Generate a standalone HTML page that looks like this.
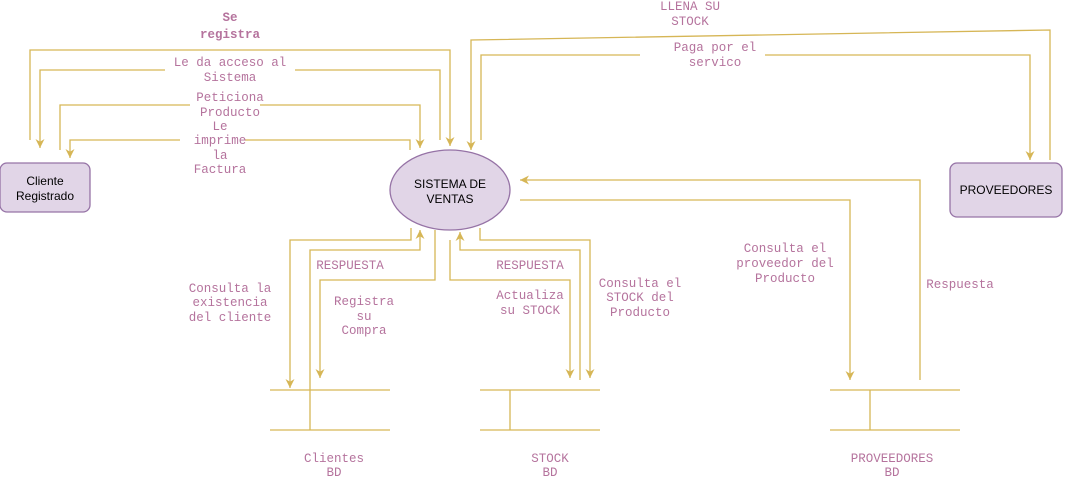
<html><body style="margin:0;background:#fff">
<svg width="1071" height="481" xmlns="http://www.w3.org/2000/svg" font-family="Liberation Mono, monospace" font-size="12.5">
<defs>
<marker id="m" viewBox="0 0 10 10" refX="10" refY="5" markerWidth="9" markerHeight="9" orient="auto" markerUnits="userSpaceOnUse"><path d="M0,0 L10,5 L0,10 L3,5 z" fill="#d6b656"/></marker></defs>
<g fill="none" stroke="#d6b656" stroke-width="1.3">
<path d="M30,140 V50 H450 V146" marker-end="url(#m)"/>
<path d="M440,140 V70 H40 V148" marker-end="url(#m)"/>
<path d="M60,150 V105 H420 V148" marker-end="url(#m)"/>
<path d="M410,150 V140 H70 V158" marker-end="url(#m)"/>
<path d="M1050,160 V30 L471,40 V150" marker-end="url(#m)"/>
<path d="M481,140 V55 H1030 V160" marker-end="url(#m)"/>
<path d="M920,380 V180 H520" marker-end="url(#m)"/>
<path d="M520,200 H850 V380" marker-end="url(#m)"/>
<path d="M411,228 V240 H290 V388" marker-end="url(#m)"/>
<path d="M310,430 V250 H420 V230" marker-end="url(#m)"/>
<path d="M435,230 V280 H320 V378" marker-end="url(#m)"/>
<path d="M580,380 V250 H460 V232" marker-end="url(#m)"/>
<path d="M450,240 V280 H570 V378" marker-end="url(#m)"/>
<path d="M480,228 V240 H590 V378" marker-end="url(#m)"/>
<path d="M270,390 H390 M270,430 H390"/>
<path d="M480,390 H600 M480,430 H600 M510,390 V430"/>
<path d="M830,390 H960 M830,430 H960 M870,390 V430"/>
</g>
<rect x="0" y="163" width="90" height="49" rx="7" fill="#e1d5e7" stroke="#9673a6" stroke-width="1.3"/>
<rect x="950" y="163" width="112" height="54" rx="7" fill="#e1d5e7" stroke="#9673a6" stroke-width="1.3"/>
<ellipse cx="450" cy="190" rx="60" ry="40" fill="#e1d5e7" stroke="#9673a6" stroke-width="1.3"/>
<g font-family="Liberation Sans, sans-serif" font-size="12" text-anchor="middle" fill="#000">
<text x="45" y="185">Cliente</text><text x="45" y="200">Registrado</text>
<text x="450" y="188">SISTEMA DE</text><text x="450" y="203">VENTAS</text>
<text x="1006" y="194">PROVEEDORES</text>
</g>
<g fill="#b5739d" text-anchor="middle">
<rect x="165" y="55" width="130" height="30" fill="#fff"/>
<rect x="190" y="90" width="70" height="30" fill="#fff"/>
<rect x="180" y="120" width="65" height="58" fill="#fff"/>
<rect x="640" y="40" width="125" height="30" fill="#fff"/>
<text x="230" y="21" font-weight="bold">Se</text><text x="230" y="38" font-weight="bold">registra</text>
<text x="230" y="66">Le da acceso al</text><text x="230" y="81">Sistema</text>
<text x="230" y="101">Peticiona</text><text x="230" y="116">Producto</text>
<text x="220" y="130">Le</text><text x="220" y="144">imprime</text><text x="220" y="159">la</text><text x="220" y="173">Factura</text>
<text x="690" y="10">LLENA SU</text><text x="690" y="25">STOCK</text>
<text x="715" y="51">Paga por el</text><text x="715" y="66">servico</text>
<text x="230" y="292">Consulta la</text><text x="230" y="306">existencia</text><text x="230" y="321">del cliente</text>
<text x="350" y="269">RESPUESTA</text>
<text x="364" y="305">Registra</text><text x="364" y="320">su</text><text x="364" y="334">Compra</text>
<text x="530" y="269">RESPUESTA</text>
<text x="530" y="299">Actualiza</text><text x="530" y="314">su STOCK</text>
<text x="640" y="287">Consulta  el</text><text x="640" y="301">STOCK del</text><text x="640" y="316">Producto</text>
<text x="785" y="252">Consulta el</text><text x="785" y="267">proveedor del</text><text x="785" y="282">Producto</text>
<text x="960" y="288">Respuesta</text>
<text x="334" y="462">Clientes</text><text x="334" y="476">BD</text>
<text x="550" y="462">STOCK</text><text x="550" y="476">BD</text>
<text x="892" y="462">PROVEEDORES</text><text x="892" y="476">BD</text>
</g>
</svg>
</body></html>
